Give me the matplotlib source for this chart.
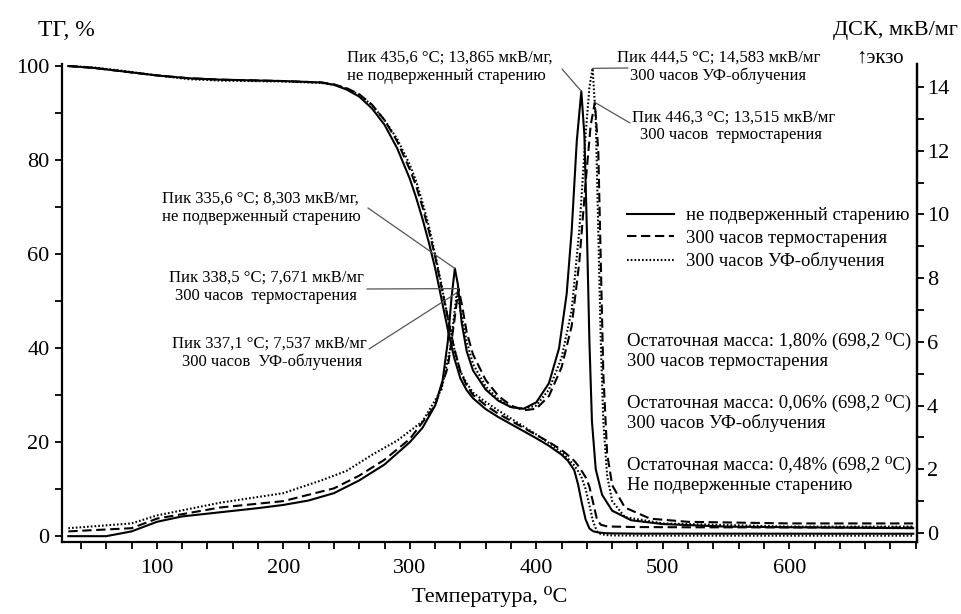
import numpy as np
import matplotlib
matplotlib.use('Agg')
import matplotlib.pyplot as plt
from matplotlib.ticker import MultipleLocator, FixedLocator

plt.rcParams['font.family'] = ['Liberation Serif', 'DejaVu Serif']

# TG data (left axis, %)
tg_temp = [30, 50, 75, 100, 125, 150, 200, 230, 240, 250,
           260, 270, 280, 290, 300, 305, 310, 315, 320, 325,
           330, 335, 340, 345, 350, 360, 370, 380, 390, 400,
           410, 420, 425, 430, 433, 436, 439, 442, 445, 448,
           451, 455, 460, 480, 520, 600, 698]
tg_unaged = [100, 99.6, 98.8, 98.0, 97.4, 97.1, 96.8, 96.5, 96.0, 95.0,
             93.5, 91.0, 87.5, 82.5, 76.0, 72, 67.5, 62.5, 57, 50.5,
             44, 38, 33.5, 31, 29.3, 27, 25.3, 23.8, 22.3, 20.8,
             19.2, 17.3, 16.0, 14.0, 11, 7, 3.5, 1.6, 1.0, 0.8,
             0.7, 0.6, 0.55, 0.5, 0.5, 0.49, 0.48]
tg_thermo = [100, 99.6, 98.8, 98.0, 97.4, 97.1, 96.8, 96.5, 96.1, 95.3,
             94.0, 91.8, 88.5, 84, 78, 74.5, 70, 65, 59.5, 53,
             46.5, 40, 35, 32, 30, 27.8, 26, 24.5, 23, 21.5,
             20, 18.3, 17.2, 16, 15, 13.8, 12.5, 10.5, 7, 3.5,
             2.4, 2.1, 2.0, 1.9, 1.85, 1.82, 1.80]
tg_uv = [100, 99.7, 98.9, 98.0, 97.2, 96.9, 96.7, 96.4, 96.0, 95.2,
         93.9, 91.7, 88.5, 84.5, 79, 75.5, 71, 66, 60, 53.5,
         46.5, 40, 35, 32.5, 30.5, 28.5, 26.7, 25, 23.3, 21.6,
         19.8, 17.8, 16.5, 15, 13.8, 12.3, 10, 6.5, 3.0, 1.0,
         0.4, 0.2, 0.12, 0.08, 0.07, 0.06, 0.06]

# DSC data (right axis, мкВ/мг)
dsc_temp_unaged = [30, 60, 80, 100, 120, 150, 180, 200, 220, 240,
                   260, 280, 300, 310, 320, 326, 330, 333, 335.6, 338,
                   341, 345, 350, 360, 370, 380, 390, 400, 410, 418,
                   424, 428, 432, 435.6, 438, 440, 442, 444, 447, 452,
                   460, 475, 500, 550, 600, 698]
dsc_unaged = [-0.1, -0.1, 0.05, 0.35, 0.52, 0.65, 0.78, 0.88, 1.02, 1.25,
              1.65, 2.15, 2.85, 3.3, 4.0, 4.8, 6.0, 7.4, 8.303, 7.8,
              6.6, 5.7, 5.1, 4.5, 4.15, 3.95, 3.9, 4.1, 4.7, 5.8,
              7.5, 9.5, 12.3, 13.865, 12.5, 9.5, 6.0, 3.5, 2.0, 1.2,
              0.7, 0.4, 0.28, 0.2, 0.18, 0.15]
dsc_temp_thermo = [30, 80, 100, 150, 200, 240, 260, 280, 300, 320,
                   330, 335, 338.5, 341, 345, 350, 360, 370, 380, 390,
                   400, 410, 420, 428, 434, 439, 443, 446.3, 449, 451,
                   453, 456, 460, 470, 490, 520, 600, 698]
dsc_thermo = [0.05, 0.15, 0.45, 0.8, 1.0, 1.4, 1.8, 2.3, 2.95, 4.0,
              5.2, 6.6, 7.671, 7.2, 6.3, 5.6, 4.8, 4.3, 4.0, 3.85,
              3.9, 4.3, 5.2, 6.5, 8.5, 11.0, 12.8, 13.515, 12.0, 8.5,
              5.0, 2.5, 1.5, 0.8, 0.45, 0.35, 0.3, 0.3]
dsc_temp_uv = [30, 80, 100, 150, 200, 230, 250, 270, 290, 310,
               325, 332, 337.1, 340, 345, 350, 360, 370, 380, 390,
               400, 410, 420, 428, 434, 439, 442, 444.5, 447, 449,
               451, 453, 456, 460, 470, 500, 600, 698]
dsc_uv = [0.15, 0.3, 0.55, 0.95, 1.25, 1.65, 1.95, 2.45, 2.9, 3.5,
          4.5, 5.8, 7.537, 7.0, 6.0, 5.3, 4.6, 4.2, 3.95, 3.9,
          4.0, 4.5, 5.5, 7.0, 9.5, 12.5, 14.0, 14.583, 13.0, 9.5,
          6.0, 3.5, 1.8, 1.0, 0.5, 0.3, 0.2, 0.2]

labels = ['не подверженный старению', '300 часов термостарения', '300 часов УФ-облучения']

# figure pixel geometry of the axes box
W, H = 962, 614
L, R, T, B = 62, 917, 64, 542


def afrac(px, py):
    # pixel position -> axes fraction
    return ((px - L) / (R - L), (B - py) / (B - T))


fig = plt.figure(figsize=(W / 100, H / 100), dpi=100)
ax = fig.add_axes([L / W, 1 - B / H, (R - L) / W, (B - T) / H])
ax2 = ax.twinx()

solid = '-'
dashed = (0, (4.5, 2.2))
dotted = (0, (0.8, 1.0))
lw = 1.5

ax.plot(tg_temp, tg_unaged, color='black', lw=lw, ls=solid, label=labels[0])
ax.plot(tg_temp, tg_thermo, color='black', lw=lw, ls=dashed, label=labels[1])
ax.plot(tg_temp, tg_uv, color='black', lw=lw, ls=dotted, label=labels[2])

ax2.plot(dsc_temp_unaged, dsc_unaged, color='black', lw=lw, ls=solid)
ax2.plot(dsc_temp_thermo, dsc_thermo, color='black', lw=lw, ls=dashed)
ax2.plot(dsc_temp_uv, dsc_uv, color='black', lw=lw, ls=dotted)

ax.set_xlim(25, 701)
ax.set_ylim(-1.28, 100.43)
ax2.set_ylim(-0.283, 14.72)

for a in (ax, ax2):
    a.spines['top'].set_visible(False)
    for s in a.spines.values():
        s.set_linewidth(1.6)
ax2.spines['left'].set_visible(False)
ax2.spines['bottom'].set_visible(False)

ax.xaxis.set_major_locator(FixedLocator([100, 200, 300, 400, 500, 600]))
ax.xaxis.set_minor_locator(FixedLocator(list(range(40, 701, 20))))
ax.yaxis.set_major_locator(MultipleLocator(20))
ax.yaxis.set_minor_locator(MultipleLocator(10))
ax2.yaxis.set_major_locator(MultipleLocator(2))
ax2.yaxis.set_minor_locator(MultipleLocator(1))

ax.tick_params(axis='both', which='both', direction='out', length=5, width=1.3,
               labelsize=16)
ax.tick_params(axis='x', which='major', pad=7)
ax.tick_params(axis='y', which='major', pad=4)
ax.tick_params(axis='y', which='both', right=False)
ax2.tick_params(axis='y', which='both', direction='out', length=5, width=1.3,
                labelsize=16, pad=2)

ax.set_xlabel('Температура, ⁰С', fontsize=16, labelpad=6)

fig.text(38 / W, 1 - 30 / H, 'ТГ, %', fontsize=17, ha='left', va='center')
fig.text(958 / W, 1 - 30 / H, 'ДСК, мкВ/мг', fontsize=16, ha='right', va='center')
fig.text(880 / W, 1 - 58 / H, '↑экзо', fontsize=15, ha='center', va='center')

# peak annotations
lead = dict(arrowstyle='-', color='#555555', lw=0.9, shrinkA=0, shrinkB=0)
fs = 12


def note(px, py, s, ha='left'):
    ax.text(*afrac(px, py), s, transform=ax.transAxes, fontsize=fs,
            ha=ha, va='center')


def leader(px, py, x, y):
    ax2.annotate('', xy=(x, y), xycoords='data', xytext=afrac(px, py),
                 textcoords='axes fraction', arrowprops=lead)


note(347, 58, 'Пик 435,6 °С; 13,865 мкВ/мг,')
note(347, 76, 'не подверженный старению')
leader(562, 69, 435.6, 13.865)

note(617, 58, 'Пик 444,5 °С; 14,583 мкВ/мг')
note(630, 76, '300 часов УФ-облучения')
leader(628, 68, 444.5, 14.583)

note(632, 118, 'Пик 446,3 °С; 13,515 мкВ/мг')
note(640, 135, '300 часов  термостарения')
leader(630, 123, 446.3, 13.515)

note(162, 199, 'Пик 335,6 °С; 8,303 мкВ/мг,')
note(162, 217, 'не подверженный старению')
leader(368, 208, 335.6, 8.303)

note(266, 278, 'Пик 338,5 °С; 7,671 мкВ/мг', ha='center')
note(266, 296, '300 часов  термостарения', ha='center')
leader(367, 289, 338.5, 7.671)

note(367, 344, 'Пик 337,1 °С; 7,537 мкВ/мг', ha='right')
note(362, 362, '300 часов  УФ-облучения', ha='right')
leader(369, 349, 337.1, 7.537)

# residual mass notes
rs = 13.5
for py, s in [(341, 'Остаточная масса: 1,80% (698,2 ⁰С)'),
              (361, '300 часов термостарения'),
              (403, 'Остаточная масса: 0,06% (698,2 ⁰С)'),
              (423, '300 часов УФ-облучения'),
              (465, 'Остаточная масса: 0,48% (698,2 ⁰С)'),
              (486, 'Не подверженные старению')]:
    ax.text(*afrac(627, py), s, transform=ax.transAxes, fontsize=rs,
            ha='left', va='center')

ax.legend(loc='upper left', bbox_to_anchor=afrac(627, 207), frameon=False,
          fontsize=rs, handlelength=2.5, handletextpad=0.65, labelspacing=0.3,
          borderpad=0, borderaxespad=0)

fig.savefig('out.png', dpi=100)
